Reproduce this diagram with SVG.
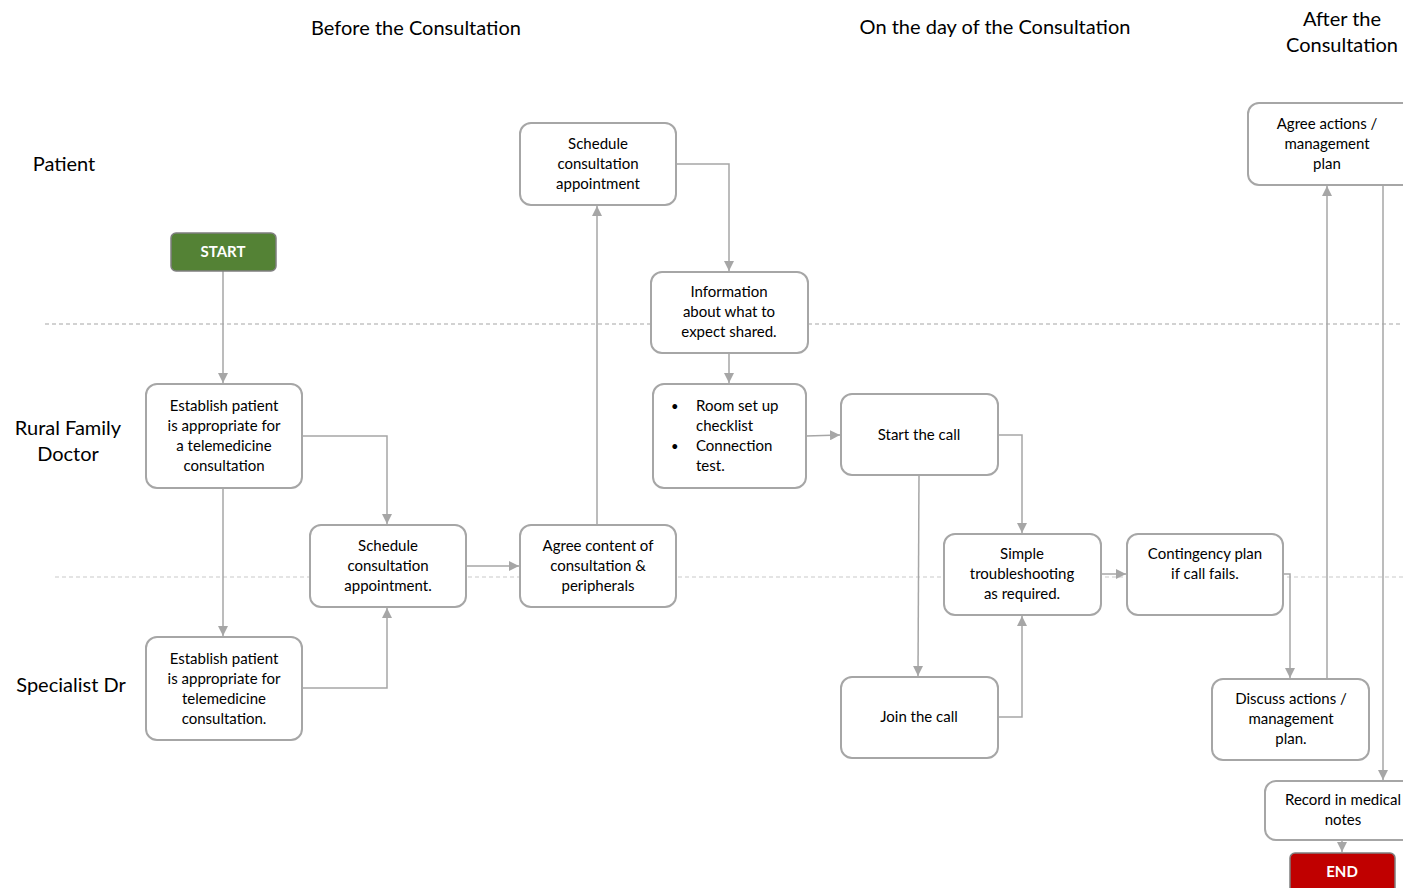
<svg xmlns="http://www.w3.org/2000/svg" width="1403" height="888" viewBox="0 0 1403 888">
<style>
text{font-family:Lato,"Open Sans","Liberation Sans",sans-serif;fill:#000}
.h{font-size:20px;text-anchor:middle}
.t{font-size:15px;text-anchor:middle}
.b{fill:#fff;stroke:#a6a6a6;stroke-width:2}
.c path{fill:none;stroke:#a6a6a6;stroke-width:1.5}
.lane{stroke:#a6a6a6;stroke-width:1.2;stroke-dasharray:4 3}
</style>
<defs>
<marker id="a" viewBox="0 0 10 10" refX="10" refY="5" markerWidth="10" markerHeight="10" markerUnits="userSpaceOnUse" orient="auto"><path d="M0,0L10,5L0,10z" fill="#a6a6a6"/></marker>
</defs>
<rect width="1403" height="888" fill="#fff"/>
<g id="headers">
<text class="h" x="416" y="35">Before the Consultation</text>
<text class="h" x="995" y="34">On the day of the Consultation</text>
<text class="h" x="1342" y="26">After the</text>
<text class="h" x="1342" y="52">Consultation</text>
<text class="h" x="64" y="171">Patient</text>
<text class="h" x="68" y="435">Rural Family</text>
<text class="h" x="68" y="461">Doctor</text>
<text class="h" x="71" y="692">Specialist Dr</text>
</g>
<line class="lane" x1="45" y1="324" x2="1403" y2="324"/>
<line class="lane" x1="55" y1="577" x2="1403" y2="577" stroke-opacity="0.6"/>
<g class="c" id="connectors">
<path d="M223,271V383" marker-end="url(#a)"/>
<path d="M223,488V636" marker-end="url(#a)"/>
<path d="M302,436H387V524" marker-end="url(#a)"/>
<path d="M302,688H387V608" marker-end="url(#a)"/>
<path d="M466,566H519" marker-end="url(#a)"/>
<path d="M597,525V206" marker-end="url(#a)"/>
<path d="M676,164H729V271" marker-end="url(#a)"/>
<path d="M729,353V383" marker-end="url(#a)"/>
<path d="M806,436L840,435" marker-end="url(#a)"/>
<path d="M998,435H1022V533" marker-end="url(#a)"/>
<path d="M919,475L918,676" marker-end="url(#a)"/>
<path d="M998,717H1022V616" marker-end="url(#a)"/>
<path d="M1101,574H1126" marker-end="url(#a)"/>
<path d="M1283,574H1290V678" marker-end="url(#a)"/>
<path d="M1327,679V186" marker-end="url(#a)"/>
<path d="M1383,185V780" marker-end="url(#a)"/>
<path d="M1342,840V852" marker-end="url(#a)"/>
</g>
<g id="start"><rect x="171" y="233" width="105" height="38" rx="5" fill="#548235" stroke="#7f7f7f" stroke-width="1.5"/><text x="223" y="257" text-anchor="middle" font-size="15" font-weight="bold" style="fill:#fff">START</text></g>
<g id="end"><rect x="1290" y="853" width="105" height="40" rx="5" fill="#c00000" stroke="#7f7f7f" stroke-width="1.5"/><text x="1342" y="877" text-anchor="middle" font-size="15" font-weight="bold" style="fill:#fff">END</text></g>
<g id="schedPatient"><rect class="b" x="520" y="123" width="156" height="82" rx="11"/><text class="t" x="598" y="149">Schedule</text><text class="t" x="598" y="169">consultation</text><text class="t" x="598" y="189">appointment</text></g>
<g id="info"><rect class="b" x="651" y="272" width="157" height="81" rx="11"/><text class="t" x="729" y="297">Information</text><text class="t" x="729" y="317">about what to</text><text class="t" x="729" y="337">expect shared.</text></g>
<g id="room"><rect class="b" x="653" y="384" width="153" height="104" rx="11"/>
<text x="671" y="411" font-size="13">•</text><text x="696" y="411" font-size="15">Room set up</text><text x="696" y="431" font-size="15">checklist</text>
<text x="671" y="451" font-size="13">•</text><text x="696" y="451" font-size="15">Connection</text><text x="696" y="471" font-size="15">test.</text></g>
<g id="startCall"><rect class="b" x="841" y="394" width="157" height="81" rx="11"/><text class="t" x="919" y="440">Start the call</text></g>
<g id="establishRFD"><rect class="b" x="146" y="384" width="156" height="104" rx="11"/><text class="t" x="224" y="411">Establish patient</text><text class="t" x="224" y="431">is appropriate for</text><text class="t" x="224" y="451">a telemedicine</text><text class="t" x="224" y="471">consultation</text></g>
<g id="schedRFD"><rect class="b" x="310" y="525" width="156" height="82" rx="11"/><text class="t" x="388" y="551">Schedule</text><text class="t" x="388" y="571">consultation</text><text class="t" x="388" y="591">appointment.</text></g>
<g id="agreeContent"><rect class="b" x="520" y="525" width="156" height="82" rx="11"/><text class="t" x="598" y="551">Agree content of</text><text class="t" x="598" y="571">consultation &amp;</text><text class="t" x="598" y="591">peripherals</text></g>
<g id="troubleshoot"><rect class="b" x="944" y="534" width="157" height="81" rx="11"/><text class="t" x="1022" y="559">Simple</text><text class="t" x="1022" y="579">troubleshooting</text><text class="t" x="1022" y="599">as required.</text></g>
<g id="contingency"><rect class="b" x="1127" y="534" width="156" height="81" rx="11"/><text class="t" x="1205" y="559">Contingency plan</text><text class="t" x="1205" y="579">if call fails.</text></g>
<g id="establishSpec"><rect class="b" x="146" y="637" width="156" height="103" rx="11"/><text class="t" x="224" y="664">Establish patient</text><text class="t" x="224" y="684">is appropriate for</text><text class="t" x="224" y="704">telemedicine</text><text class="t" x="224" y="724">consultation.</text></g>
<g id="joinCall"><rect class="b" x="841" y="677" width="157" height="81" rx="11"/><text class="t" x="919" y="722">Join the call</text></g>
<g id="discuss"><rect class="b" x="1212" y="679" width="157" height="81" rx="11"/><text class="t" x="1291" y="704">Discuss actions /</text><text class="t" x="1291" y="724">management</text><text class="t" x="1291" y="744">plan.</text></g>
<g id="agreeActions"><rect class="b" x="1248" y="103" width="165" height="82" rx="11"/><text class="t" x="1327" y="129">Agree actions /</text><text class="t" x="1327" y="149">management</text><text class="t" x="1327" y="169">plan</text></g>
<g id="record"><rect class="b" x="1265" y="781" width="150" height="59" rx="11"/><text class="t" x="1343" y="805">Record in medical</text><text class="t" x="1343" y="825">notes</text></g>
</svg>
